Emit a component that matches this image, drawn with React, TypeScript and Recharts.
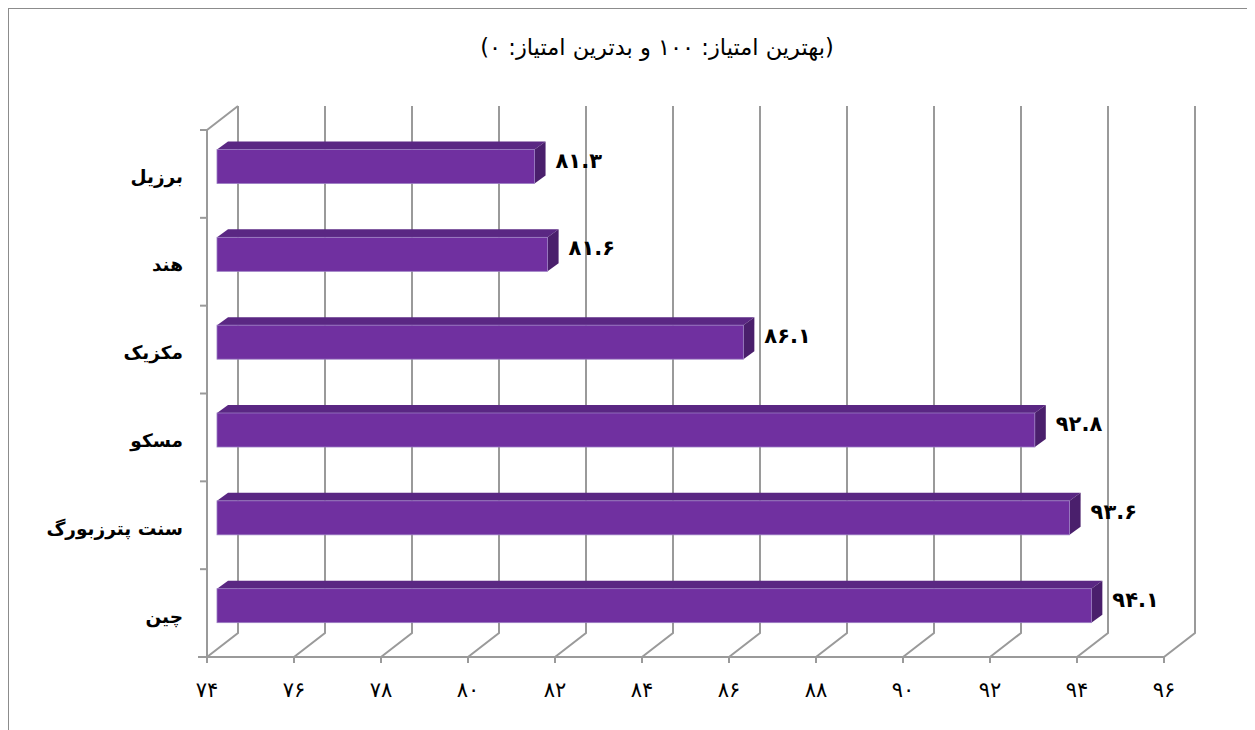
import { BarChart, Bar, XAxis, YAxis, CartesianGrid, LabelList } from 'recharts'

const cities = ['برزیل', 'هند', 'مکزیک', 'مسکو', 'سنت پترزبورگ', 'چین']
const scores = [81.3, 81.6, 86.1, 92.8, 93.6, 94.1]
const xTicks = [74, 76, 78, 80, 82, 84, 86, 88, 90, 92, 94, 96]
const title = '(بهترین امتیاز: ۱۰۰ و بدترین امتیاز: ۰)'

const data = cities.map((city, i) => ({ city, score: scores[i] }))

const W = 1238
const H = 721
const M = { top: 121, right: 83, bottom: 33, left: 8 }
const Y_W = 190
const X_H = 40
const BAND = (H - M.top - M.bottom - X_H) / cities.length

// 3d depth of the walls and of the bars
const DX = 31
const DY = 24
const BAR_SHIFT_X = 10
const BAR_SHIFT_Y = -7.5
const BDX = 11
const BDY = 8

const GRID = '#9a9a9a'
const FONT = '"DejaVu Sans", sans-serif'

const fa = (v: number | string) =>
  String(v).replace(/\d/g, (d) => '۰۱۲۳۴۵۶۷۸۹'[Number(d)])

function WallLine(props: any) {
  const { x1, y1, y2, index } = props
  let d = `M${x1},${y2} L${x1 + DX},${y2 - DY} L${x1 + DX},${y1 - DY}`
  if (index === 0) d += ` M${x1},${y1} L${x1 + DX},${y1 - DY}`
  return <path key={props.key} d={d} stroke={GRID} strokeWidth={2} fill="none" />
}

function Bar3D(props: any) {
  const { x, y, width, height } = props
  if (width == null || width <= 0) return null
  const fx = x + BAR_SHIFT_X
  const fy = y + BAR_SHIFT_Y
  const r = fx + width
  return (
    <g>
      <polygon
        points={`${fx},${fy} ${fx + BDX},${fy - BDY} ${r + BDX},${fy - BDY} ${r},${fy}`}
        fill="#5a2783"
      />
      <polygon
        points={`${r},${fy} ${r + BDX},${fy - BDY} ${r + BDX},${fy + height - BDY} ${r},${fy + height}`}
        fill="#4a1f6c"
      />
      <rect x={fx} y={fy} width={width} height={height} fill="#7030a0" stroke="#9a7cc2" strokeWidth={0.8} />
    </g>
  )
}

function CityTick(props: any) {
  const { x, y, payload, index } = props
  const top = y - BAND / 2
  return (
    <g>
      <line x1={x - 7} y1={top} x2={x} y2={top} stroke={GRID} strokeWidth={2} />
      {index === cities.length - 1 && (
        <line x1={x - 9} y1={y + BAND / 2} x2={x} y2={y + BAND / 2} stroke={GRID} strokeWidth={2} />
      )}
      <text
        x={x - 24}
        y={y + 3}
        textAnchor="end"
        dominantBaseline="central"
        fontSize={18.5}
        fontWeight="bold"
        fill="#000"
      >
        {payload.value}
      </text>
    </g>
  )
}

function ValueLabel(props: any) {
  const { x, y, width, height, value } = props
  return (
    <text
      x={x + width + BAR_SHIFT_X + BDX + 10}
      y={y + BAR_SHIFT_Y + height / 2 - 6}
      dominantBaseline="central"
      fontSize={21}
      fontWeight="bold"
      fill="#000"
    >
      {fa(value)}
    </text>
  )
}

export default function App() {
  return (
    <div
      style={{
        width: W,
        height: H,
        border: '1px solid #8c8c8c',
        borderBottom: 'none',
        fontFamily: FONT,
      }}
    >
      <BarChart width={W} height={H} data={data} layout="vertical" margin={M}>
        <text x={648} y={38} textAnchor="middle" dominantBaseline="central" fontSize={22.5} fill="#000">
          {title}
        </text>
        <CartesianGrid horizontal={false} vertical={WallLine} />
        <XAxis
          type="number"
          domain={[74, 96]}
          ticks={xTicks}
          height={X_H}
          tickFormatter={fa}
          tick={{ fill: '#000', fontSize: 21 }}
          tickSize={6}
          tickMargin={19}
          stroke={GRID}
          axisLine={{ stroke: GRID, strokeWidth: 2 }}
          tickLine={{ stroke: GRID, strokeWidth: 2 }}
        />
        <YAxis
          type="category"
          dataKey="city"
          width={Y_W}
          tickLine={false}
          tickSize={0}
          tickMargin={0}
          axisLine={{ stroke: GRID, strokeWidth: 2 }}
          tick={<CityTick />}
        />
        <Bar dataKey="score" barSize={34} shape={<Bar3D />} isAnimationActive={false}>
          <LabelList dataKey="score" content={<ValueLabel />} />
        </Bar>
      </BarChart>
    </div>
  )
}
